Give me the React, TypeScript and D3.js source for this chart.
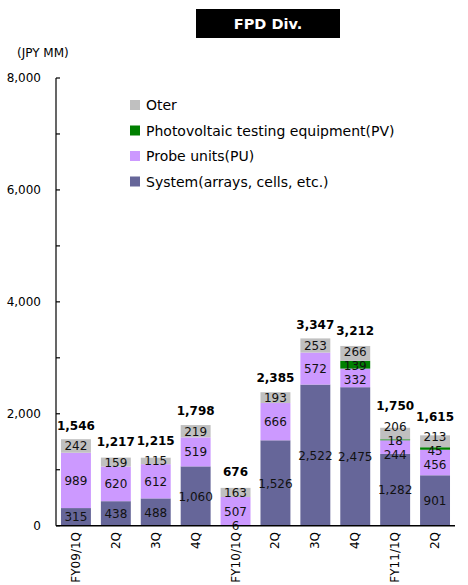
import React, { useRef, useEffect } from 'react';
import * as d3 from 'd3';

const quarters = ['FY09/1Q', '2Q', '3Q', '4Q', 'FY10/1Q', '2Q', '3Q', '4Q', 'FY11/1Q', '2Q'];
const system = [315, 438, 488, 1060, 6, 1526, 2522, 2475, 1282, 901];
const probeUnits = [989, 620, 612, 519, 507, 666, 572, 332, 244, 456];
const photovoltaic = [0, 0, 0, 0, 0, 0, 0, 139, 18, 45];
const other = [242, 159, 115, 219, 163, 193, 253, 266, 206, 213];
const yTicks = [0, 1000, 2000, 3000, 4000, 5000, 6000, 7000, 8000];
const yLabels = [0, 2000, 4000, 6000, 8000];

const seriesNames = ['System(arrays, cells, etc.)', 'Probe units(PU)', 'Photovoltaic testing equipment(PV)', 'Oter'];
const seriesColors = ['#666699', '#cc99ff', '#008000', '#c0c0c0'];

const FONT = '"DejaVu Sans", sans-serif';
const GAP = 14;

// agrupa rotulos sobrepostos e distribui em volta da media
function spread(centers: number[]): number[] {
  let clusters = centers.map((c, i) => ({ idx: [i], mean: c }));
  const posOf = (cl: { idx: number[]; mean: number }) => {
    const n = cl.idx.length;
    return cl.idx.map((_, j) => cl.mean + ((n - 1) / 2 - j) * GAP);
  };
  let merged = true;
  while (merged) {
    merged = false;
    for (let k = 1; k < clusters.length; k++) {
      const a = posOf(clusters[k - 1]);
      const b = posOf(clusters[k]);
      if (a[a.length - 1] - b[0] < GAP) {
        const idx = [...clusters[k - 1].idx, ...clusters[k].idx];
        const mean = d3.mean(idx, i => centers[i]) as number;
        clusters.splice(k - 1, 2, { idx, mean });
        merged = true;
        break;
      }
    }
  }
  const out = new Array(centers.length);
  clusters.forEach(cl => {
    const p = posOf(cl);
    cl.idx.forEach((i, j) => (out[i] = p[j]));
  });
  return out;
}

const App: React.FC = () => {
  const svgRef = useRef<SVGSVGElement>(null);

  useEffect(() => {
    if (!svgRef.current) return;
    const svg = d3.select(svgRef.current);
    svg.selectAll('*').remove();

    const series = [system, probeUnits, photovoltaic, other];

    const x = d3.scaleBand<number>()
      .domain(d3.range(quarters.length))
      .range([56, 455])
      .paddingInner(0.25)
      .paddingOuter(0.125);

    const y = d3.scaleLinear().domain([0, 8000]).range([525.7, 78]);

    // titulo
    svg.append('rect').attr('x', 196).attr('y', 9).attr('width', 144).attr('height', 29).attr('fill', '#000');
    svg.append('text')
      .attr('x', 268).attr('y', 29)
      .attr('text-anchor', 'middle')
      .attr('fill', '#fff')
      .style('font', `bold 14.5px ${FONT}`)
      .text('FPD Div.');

    svg.append('text')
      .attr('x', 17).attr('y', 57)
      .style('font', `12px ${FONT}`)
      .text('(JPY MM)');

    // eixo y
    svg.append('line')
      .attr('x1', 56).attr('x2', 56)
      .attr('y1', y(8000)).attr('y2', y(0))
      .attr('stroke', '#000').attr('stroke-width', 1.2);

    svg.selectAll('.ytick')
      .data(yTicks)
      .enter()
      .append('line')
      .attr('x1', 56).attr('x2', 60)
      .attr('y1', d => y(d)).attr('y2', d => y(d))
      .attr('stroke', '#000').attr('stroke-width', 1.2);

    svg.selectAll('.ylabel')
      .data(yLabels)
      .enter()
      .append('text')
      .attr('x', 41)
      .attr('y', d => y(d) + 4)
      .attr('text-anchor', 'end')
      .style('font', `12px ${FONT}`)
      .text(d => d3.format(',')(d));

    // barras empilhadas
    quarters.forEach((q, i) => {
      let acc = 0;
      const vals: number[] = [];
      const centers: number[] = [];
      series.forEach((s, k) => {
        const v = s[i];
        const y0 = y(acc);
        const y1 = y(acc + v);
        acc += v;
        if (v <= 0) return;
        svg.append('rect')
          .attr('x', x(i)!)
          .attr('width', x.bandwidth())
          .attr('y', y1)
          .attr('height', y0 - y1)
          .attr('fill', seriesColors[k]);
        vals.push(v);
        centers.push((y0 + y1) / 2);
      });

      const pos = spread(centers);
      const cx = x(i)! + x.bandwidth() / 2;

      vals.forEach((v, j) => {
        svg.append('text')
          .attr('x', cx)
          .attr('y', pos[j] + 4.5)
          .attr('text-anchor', 'middle')
          .attr('fill', '#111')
          .style('font', `12px ${FONT}`)
          .text(d3.format(',')(v));
      });

      const topLabel = pos[pos.length - 1];
      svg.append('text')
        .attr('x', cx)
        .attr('y', Math.min(y(acc) - 9, topLabel - 16))
        .attr('text-anchor', 'middle')
        .style('font', `bold 12px ${FONT}`)
        .text(d3.format(',')(acc));

      svg.append('text')
        .attr('transform', `translate(${cx + 4},532) rotate(-90)`)
        .attr('text-anchor', 'end')
        .style('font', `12px ${FONT}`)
        .text(q);
    });

    // eixo x
    svg.append('line')
      .attr('x1', 56).attr('x2', 455)
      .attr('y1', y(0)).attr('y2', y(0))
      .attr('stroke', '#000').attr('stroke-width', 1.5);

    // legenda
    const legendOrder = [3, 2, 1, 0];
    legendOrder.forEach((k, r) => {
      const ly = 105 + r * 25.5;
      svg.append('rect')
        .attr('x', 130).attr('y', ly - 5)
        .attr('width', 10).attr('height', 10)
        .attr('fill', seriesColors[k]);
      svg.append('text')
        .attr('x', 146).attr('y', ly + 5)
        .style('font', `14px ${FONT}`)
        .text(seriesNames[k]);
    });
  }, []);

  return (
    <svg
      ref={svgRef}
      width={468}
      height={585}
      style={{ position: 'absolute', left: 0, top: 0, background: '#fff' }}
    />
  );
};

export default App;
